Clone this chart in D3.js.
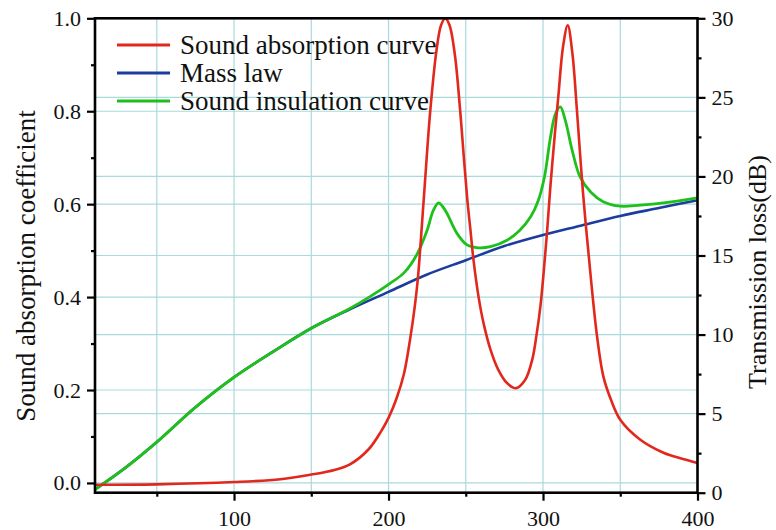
<!DOCTYPE html>
<html>
<head>
<meta charset="utf-8">
<script src="https://cdn.jsdelivr.net/npm/d3@7"></script>
<style>
body { margin: 0; background: #fff; }
svg text { font-family: "Liberation Serif", "Times New Roman", serif; fill: #111; }
</style>
</head>
<body>
<svg id="chart" width="776" height="530"></svg>
<script>

// Data (frequency, value).

// Sound absorption coefficient (left axis).
const absorption = [
    [10, -0.004], [50, -0.003], [100, 0.002], [130, 0.008], [150, 0.018],
    [165, 0.028], [175, 0.04], [187, 0.072], [195, 0.11], [200, 0.14],
    [205, 0.18], [210, 0.235], [214, 0.31], [217, 0.38], [219, 0.44],
    [223, 0.62], [227, 0.80], [231, 0.93], [234, 0.985], [236.7, 1.0],
    [239.5, 0.985], [243, 0.92], [246.4, 0.80], [249, 0.69], [251, 0.61],
    [253, 0.545], [255, 0.48], [258.3, 0.40], [261.5, 0.344], [266, 0.287],
    [271, 0.244], [276.7, 0.215], [282.5, 0.204], [288.5, 0.222], [293, 0.265],
    [296, 0.323], [298.3, 0.38], [300.4, 0.452], [302.6, 0.54], [304.7, 0.635],
    [307.5, 0.745], [310, 0.835], [313, 0.94], [316, 0.985], [319, 0.925],
    [322, 0.80], [326, 0.62], [331, 0.44], [335, 0.315], [339, 0.23],
    [344, 0.179], [350, 0.136], [363, 0.093], [378, 0.065], [390, 0.052],
    [400, 0.043],
];

// Mass law transmission loss, dB (right axis).
const massLaw = [
    [10, 0.2], [30, 1.6], [50, 3.2], [75, 5.4], [100, 7.3], [125, 8.9],
    [150, 10.4], [175, 11.6], [200, 12.7], [225, 13.8], [250, 14.7],
    [275, 15.6], [300, 16.3], [325, 16.9], [350, 17.5], [375, 18.0],
    [400, 18.5],
];

// Sound insulation curve, dB (right axis).
const insulation = [
    [10, 0.2], [30, 1.6], [50, 3.2], [75, 5.4], [100, 7.3], [125, 8.9],
    [150, 10.4], [175, 11.65], [188, 12.4], [201, 13.24], [210, 13.9],
    [218, 15.0], [225, 16.6], [229, 17.85], [232.4, 18.33], [235, 18.1],
    [237.8, 17.67], [244.3, 16.4], [250.8, 15.67], [257, 15.5], [266, 15.56],
    [277, 15.98], [285, 16.6], [292, 17.45], [297, 18.5], [301, 20.0],
    [304.7, 22.4], [308, 23.95], [311.2, 24.4], [314.4, 23.56], [319, 21.6],
    [324, 19.97], [331, 19.0], [339, 18.4], [350, 18.12], [363, 18.19],
    [378, 18.33], [400, 18.65],
];

// Ticks.
const xTicks = [100, 200, 300, 400];
const xMinor = [50, 150, 250, 350];
const leftTicks = [0, 0.2, 0.4, 0.6, 0.8, 1.0];
const leftMinor = [0.1, 0.3, 0.5, 0.7, 0.9];
const rightTicks = [0, 5, 10, 15, 20, 25, 30];
const rightMinor = [2.5, 7.5, 12.5, 17.5, 22.5, 27.5];

const legendNames = ["Sound absorption curve", "Mass law", "Sound insulation curve"];
const colors = ["#e2271d", "#1c3c9e", "#1fc01c"];

// Plot frame.

const svg = d3.select("#chart");

const box = { L: 95, R: 697.5, T: 18.3, B: 492.7 };

const x = d3.scaleLinear().domain([10, 400]).range([box.L, box.R]);
const yL = d3.scaleLinear().domain([-0.021, 1.0]).range([box.B, box.T]);
const yR = d3.scaleLinear().domain([0, 30]).range([box.B, box.T]);

//----------------------------------------------------------------------------//
//                                    GRID                                    //
//----------------------------------------------------------------------------//

const grid = svg.append("g")
    .attr("stroke", "#a9d9dc")
    .attr("stroke-width", 1.2);

grid.selectAll(".vx")
    .data(xTicks.concat(xMinor).filter(d => d < 400))
    .join("line")
        .attr("x1", d => x(d)).attr("x2", d => x(d))
        .attr("y1", box.T).attr("y2", box.B);

grid.selectAll(".hl")
    .data(leftTicks.filter(d => d < 1))
    .join("line")
        .attr("x1", box.L).attr("x2", box.R)
        .attr("y1", d => yL(d)).attr("y2", d => yL(d));

grid.selectAll(".hr")
    .data(rightTicks.filter(d => d > 0 && d < 30))
    .join("line")
        .attr("class", "hr")
        .attr("x1", box.L).attr("x2", box.R)
        .attr("y1", d => yR(d)).attr("y2", d => yR(d));

//----------------------------------------------------------------------------//
//                                   CURVES                                   //
//----------------------------------------------------------------------------//

const smooth = d3.curveCatmullRom.alpha(0.5);
const lineL = d3.line().x(d => x(d[0])).y(d => yL(d[1])).curve(smooth);
const lineR = d3.line().x(d => x(d[0])).y(d => yR(d[1])).curve(smooth);

svg.append("path")
    .attr("d", lineR(massLaw))
    .attr("fill", "none")
    .attr("stroke", colors[1])
    .attr("stroke-width", 2.6);

svg.append("path")
    .attr("d", lineR(insulation))
    .attr("fill", "none")
    .attr("stroke", colors[2])
    .attr("stroke-width", 2.8);

svg.append("path")
    .attr("d", lineL(absorption))
    .attr("fill", "none")
    .attr("stroke", colors[0])
    .attr("stroke-width", 2.6);

//----------------------------------------------------------------------------//
//                                    AXES                                    //
//----------------------------------------------------------------------------//

function styleAxis(g) {
    g.select(".domain").remove();
    g.selectAll(".tick line").attr("stroke", "#000").attr("stroke-width", 2.2);
    g.selectAll(".tick text")
        .attr("fill", "#111")
        .style("font-family", '"Liberation Serif", serif')
        .style("font-size", "22px");
}

svg.append("g")
    .attr("transform", `translate(${box.L},0)`)
    .call(d3.axisLeft(yL).tickValues(leftTicks).tickFormat(d3.format(".1f")).tickSize(8).tickPadding(6))
    .call(styleAxis);

svg.append("g")
    .attr("transform", `translate(${box.L},0)`)
    .call(d3.axisLeft(yL).tickValues(leftMinor).tickFormat("").tickSize(4))
    .call(styleAxis);

svg.append("g")
    .attr("transform", `translate(${box.R},0)`)
    .call(d3.axisRight(yR).tickValues(rightTicks).tickSize(8).tickPadding(6))
    .call(styleAxis);

svg.append("g")
    .attr("transform", `translate(${box.R},0)`)
    .call(d3.axisRight(yR).tickValues(rightMinor).tickFormat("").tickSize(4))
    .call(styleAxis);

svg.append("g")
    .attr("transform", `translate(0,${box.B})`)
    .call(d3.axisBottom(x).tickValues(xTicks).tickSize(8).tickPadding(10))
    .call(styleAxis);

svg.append("g")
    .attr("transform", `translate(0,${box.B})`)
    .call(d3.axisBottom(x).tickValues(xMinor).tickFormat("").tickSize(4))
    .call(styleAxis);

// Frame.
svg.append("rect")
    .attr("x", box.L).attr("y", box.T)
    .attr("width", box.R - box.L).attr("height", box.B - box.T)
    .attr("fill", "none")
    .attr("stroke", "#000")
    .attr("stroke-width", 2.6);

// Axis titles.
svg.append("text")
    .attr("transform", "translate(35,266) rotate(-90)")
    .attr("text-anchor", "middle")
    .style("font-size", "27px")
    .text("Sound absorption coefficient");

svg.append("text")
    .attr("transform", "translate(766,272) rotate(-90)")
    .attr("text-anchor", "middle")
    .style("font-size", "26px")
    .text("Transmission loss(dB)");

//----------------------------------------------------------------------------//
//                                   LEGEND                                   //
//----------------------------------------------------------------------------//

const legend = svg.append("g")
    .selectAll("g")
    .data(legendNames)
    .join("g")
        .attr("transform", (d, i) => `translate(117,${45 + i * 28})`);

legend.append("line")
    .attr("x1", 0).attr("x2", 53)
    .attr("stroke", (d, i) => colors[i])
    .attr("stroke-width", 2.8);

legend.append("text")
    .attr("x", 63)
    .attr("dy", "0.34em")
    .style("font-size", "27px")
    .text(d => d);

</script>
</body>
</html>
